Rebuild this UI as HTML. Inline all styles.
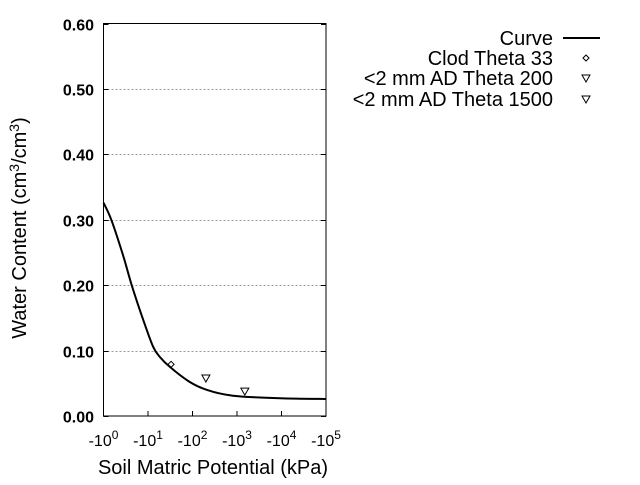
<!DOCTYPE html>
<html><head><meta charset="utf-8"><style>
body{margin:0;background:#fff;}
svg{font-family:"Liberation Sans",Arial,sans-serif;}
</style></head><body>
<svg width="640" height="480" viewBox="0 0 640 480">
<g id="grid"></g>
<rect x="103.5" y="23.5" width="222.5" height="392.5" fill="none" stroke="#000" stroke-width="1"/>
<g id="yticks"></g>
<g id="xticks"></g>
<path id="curve" fill="none" stroke="#000" stroke-width="2"/>
<g id="marks"></g>
<text x="213" y="474" text-anchor="middle" font-size="20">Soil Matric Potential (kPa)</text>
<text transform="translate(26,228) rotate(-90)" text-anchor="middle" font-size="20">Water Content (cm<tspan dy="-7" font-size="14">3</tspan><tspan dy="7">/cm</tspan><tspan dy="-7" font-size="14">3</tspan><tspan dy="7">)</tspan></text>
<g font-size="20" text-anchor="end">
<text x="553" y="45">Curve</text>
<line x1="563" y1="38" x2="600" y2="38" stroke="#000" stroke-width="2"/>
<text x="553" y="65">Clod Theta 33</text>
<path d="M586,55 L589,58 L586,61 L583,58 Z" fill="none" stroke="#000"/>
<text x="553" y="85">&lt;2 mm AD Theta 200</text>
<path d="M582,75 L590,75 L586,82 Z" fill="none" stroke="#000"/>
<text x="553" y="106">&lt;2 mm AD Theta 1500</text>
<path d="M582,96 L590,96 L586,103 Z" fill="none" stroke="#000"/>
</g>
</svg>
<script>
const curveKPa=[1,1.5,2.8,4.3,7.8,13,18.6,31,87,209,813,9300,100000];
const curveTheta=[0.326,0.30,0.244,0.20,0.147,0.106,0.09,0.075,0.052,0.040,0.031,0.027,0.026];
const obsKPa=[33,200,1500];
const obsTheta=[0.079,0.058,0.038];
const obsShape=["diamond","triangle","triangle"];
const yTicks=[0,0.1,0.2,0.3,0.4,0.5,0.6];
const yTickLabels=["0.00","0.10","0.20","0.30","0.40","0.50","0.60"];
const xDecades=[0,1,2,3,4,5];
const NS="http://www.w3.org/2000/svg";
const X0=103.5,X1=326,Y0=416,Y1=23.5;
function xs(k){return X0+(Math.log10(k)-0)/5*(X1-X0);}
function ys(v){return Y0-(v/0.6)*(Y0-Y1);}
function mk(tag,at,parent){const e=document.createElementNS(NS,tag);for(const k in at)e.setAttribute(k,at[k]);parent.appendChild(e);return e;}
const grid=document.getElementById('grid'),yt=document.getElementById('yticks'),xt=document.getElementById('xticks');
yTicks.forEach((v,i)=>{const y=Math.round(ys(v))+0.5;
 if(v>0&&v<0.6){const g=mk('line',{x1:X0,x2:X1,y1:y,y2:y,stroke:'#999','stroke-dasharray':'2,2'},grid);
 
 }
 const t1=mk('line',{x1:X0,x2:X0+5,y1:y,y2:y,stroke:'#000'},yt);
 
 
 const t2=mk('line',{x1:X1-5,x2:X1,y1:y,y2:y,stroke:'#000'},yt);
 
 
 const tx=mk('text',{x:94,y:y+6,'text-anchor':'end','font-size':'16','font-weight':'bold'},yt);
 tx.textContent=yTickLabels[i];
 
 
});
xDecades.forEach(d=>{const x=xs(Math.pow(10,d));
 const t=mk('line',{x1:x,x2:x,y1:Y0,y2:Y0-5,stroke:'#000'},xt);
 
 
 const tx=mk('text',{x:x,y:446,'text-anchor':'middle','font-size':'16'},xt);
 tx.innerHTML='-10<tspan dy="-7" font-size="12">'+d+'</tspan>';
 
 
});
const P=curveKPa.map((k,i)=>[xs(k),ys(curveTheta[i])]);
let d='M'+P[0][0].toFixed(1)+','+P[0][1].toFixed(1);
for(let i=0;i<P.length-1;i++){const p0=P[Math.max(i-1,0)],p1=P[i],p2=P[i+1],p3=P[Math.min(i+2,P.length-1)];
 const c1=[p1[0]+(p2[0]-p0[0])/6,p1[1]+(p2[1]-p0[1])/6],c2=[p2[0]-(p3[0]-p1[0])/6,p2[1]-(p3[1]-p1[1])/6];
 d+=`C${c1[0].toFixed(1)},${c1[1].toFixed(1)} ${c2[0].toFixed(1)},${c2[1].toFixed(1)} ${p2[0].toFixed(1)},${p2[1].toFixed(1)}`;}
document.getElementById('curve').setAttribute('d',d);
const marks=document.getElementById('marks');
obsKPa.forEach((k,i)=>{const x=xs(k),y=ys(obsTheta[i]);let p;
 if(obsShape[i]==='diamond')p=`M${x},${y-3}L${x+3},${y}L${x},${y+3}L${x-3},${y}Z`;
 else p=`M${x-4},${y-3}L${x+4},${y-3}L${x},${y+4}Z`;
 const e=mk('path',{d:p,fill:'none',stroke:'#000'},marks);
 
 
});
</script>
</body></html>
